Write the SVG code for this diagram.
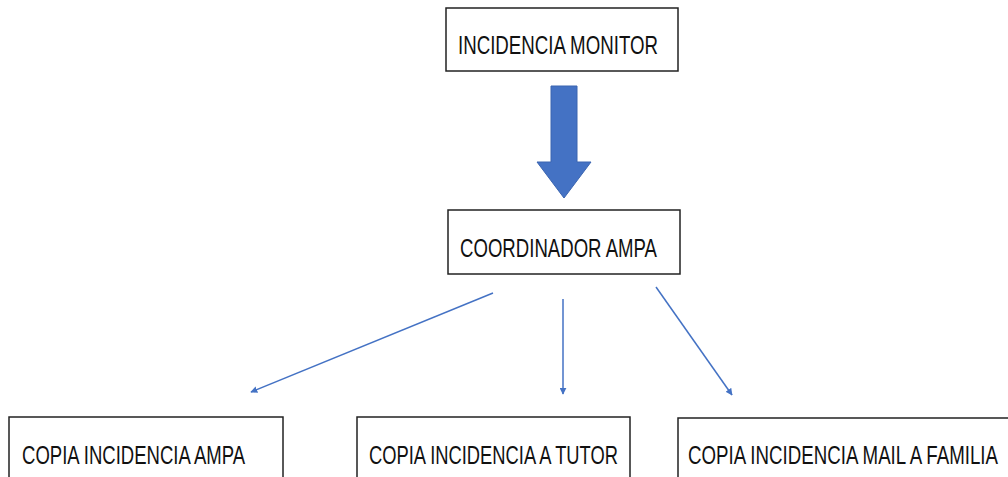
<svg xmlns="http://www.w3.org/2000/svg" width="1008" height="477" viewBox="0 0 1008 477">
<style>
.box{fill:#fff;stroke:#222;stroke-width:1.5}
.lbl{font-family:"Liberation Sans",Arial,sans-serif;font-size:26px;fill:#111}
.con{stroke:#4472C4;stroke-width:1.5;fill:none}
</style>
<defs>
<marker id="ah" viewBox="0 0 10 10" refX="9" refY="5" markerWidth="7" markerHeight="7" markerUnits="userSpaceOnUse" orient="auto">
<path d="M0,0 L10,5 L0,10 z" fill="#4472C4"/>
</marker>
</defs>
<rect width="1008" height="477" fill="#fff"/>
<g id="n-monitor">
<rect class="box" x="446" y="8" width="232" height="63"/>
<text class="lbl" x="458" y="54" textLength="200" lengthAdjust="spacingAndGlyphs">INCIDENCIA MONITOR</text>
</g>
<g id="n-coordinador">
<rect class="box" x="448" y="210" width="232" height="64"/>
<text class="lbl" x="460" y="257" textLength="197" lengthAdjust="spacingAndGlyphs">COORDINADOR AMPA</text>
</g>
<g id="n-copia-ampa">
<rect class="box" x="9" y="417" width="274" height="70"/>
<text class="lbl" x="22" y="464" textLength="223" lengthAdjust="spacingAndGlyphs">COPIA INCIDENCIA AMPA</text>
</g>
<g id="n-copia-tutor">
<rect class="box" x="357" y="417" width="273" height="70"/>
<text class="lbl" x="369" y="464" textLength="249" lengthAdjust="spacingAndGlyphs">COPIA INCIDENCIA A TUTOR</text>
</g>
<g id="n-copia-familia">
<rect class="box" x="678" y="418" width="340" height="70"/>
<text class="lbl" x="688" y="464" textLength="310" lengthAdjust="spacingAndGlyphs">COPIA INCIDENCIA MAIL A FAMILIA</text>
</g>
<g id="connectors">
<path d="M551,86 L577,86 L577,162 L591,162 L564,198 L537,162 L551,162 z" fill="#4472C4" stroke="#3a64b0" stroke-width="1"/>
<line class="con" x1="493" y1="293" x2="251" y2="392" marker-end="url(#ah)"/>
<line class="con" x1="563" y1="299" x2="563" y2="394" marker-end="url(#ah)"/>
<line class="con" x1="656" y1="287" x2="732" y2="395" marker-end="url(#ah)"/>
</g>
</svg>
